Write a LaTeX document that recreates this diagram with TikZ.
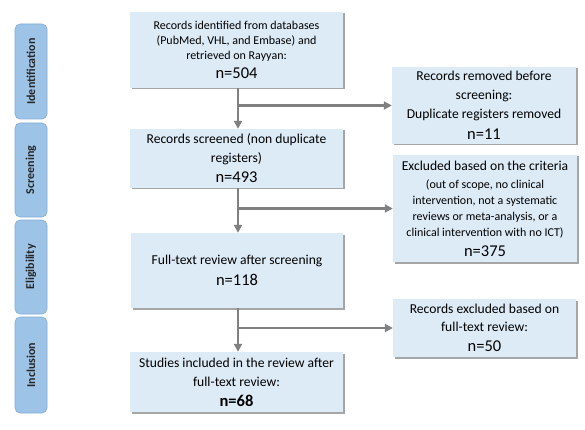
\documentclass[tikz,border=0pt]{standalone}
\usepackage{fontspec}
\setmainfont{Carlito}
\usetikzlibrary{arrows.meta,shadows}
\definecolor{boxfill}{HTML}{DDEBF7}
\definecolor{sidefill}{HTML}{9DC3E6}
\definecolor{sideline}{HTML}{82AEDC}
\definecolor{arrgray}{HTML}{808080}
\newcommand{\nn}[1]{{\fontsize{16.5}{20}\selectfont #1}}
\tikzset{
  mainbox/.style={fill=boxfill, inner sep=0pt, align=center,
    drop shadow={shadow xshift=1.5pt, shadow yshift=-1.5pt, fill=black, opacity=0.35},
    font=\fontsize{13.6}{19}\selectfont},
  sidebox/.style={fill=sidefill, draw=sideline, line width=0.6pt, rounded corners=5pt,
    minimum width=32pt, inner sep=0pt},
  sidetext/.style={rotate=90, font=\bfseries\fontsize{12}{14}\selectfont, text=black!85},
  arr/.style={draw=arrgray, line width=2.6pt, -{Triangle[length=8pt,width=8pt]}},
}
\begin{document}
\begin{tikzpicture}[x=1pt,y=-1pt]
\useasboundingbox (0,0) rectangle (585,430);
\fill[white] (0,0) rectangle (585,430);
% side labels
\node[sidebox, minimum height=95pt] (s1) at (31,71.5) {};
\node[sidetext] (t1) at (s1.center) {Identification};
\node[sidebox, minimum height=94pt] (s2) at (31,170) {};
\node[sidetext] (t2) at (s2.center) {Screening};
\node[sidebox, minimum height=94pt] (s3) at (31,267) {};
\node[sidetext] (t3) at (s3.center) {Eligibility};
\node[sidebox, minimum height=96pt] (s4) at (31,365) {};
\node[sidetext] (t4) at (s4.center) {Inclusion};
% main boxes
\node[mainbox, minimum width=213pt, minimum height=76pt, font=\fontsize{12}{15}\selectfont] (b1) at (236.5,50)
  {Records identified from databases\\(PubMed, VHL, and Embase) and\\retrieved on Rayyan:\\[4pt]\nn{n=504}};
\node[mainbox, minimum width=213pt, minimum height=59pt] (b2) at (236.5,158.5)
  {Records screened (non duplicate\\registers)\\[1pt]\nn{n=493}};
\node[mainbox, minimum width=212pt, minimum height=75pt] (b3) at (237,270.5)
  {Full-text review after screening\\[2pt]\nn{n=118}};
\node[mainbox, minimum width=213pt, minimum height=60pt] (b4) at (236.5,382)
  {Studies included in the review after\\full-text review:\\[1pt]\nn{\bfseries n=68}};
\node[mainbox, minimum width=184pt, minimum height=77pt] (r1) at (484,105.5)
  {Records removed before\\screening:\\Duplicate registers removed\\[2pt]\nn{n=11}};
\node[mainbox, minimum width=184pt, minimum height=107pt, font=\fontsize{12}{16}\selectfont] (r2) at (485,208.5)
  {{\fontsize{13.6}{16}\selectfont Excluded based on the criteria}\\[2pt](out of scope, no clinical\\intervention, not a systematic\\reviews or meta-analysis, or a\\clinical intervention with no ICT)\\[4pt]\nn{n=375}};
\node[mainbox, minimum width=183pt, minimum height=58pt, font=\fontsize{13.6}{18}\selectfont] (r3) at (484.5,328)
  {Records excluded based on\\full-text review:\\[2pt]\nn{n=50}};
% connectors
\coordinate (v) at (238,0);
\draw[arr] (b1.south -| v) -- (b2.north -| v);
\draw[arr] (r1.west -| v) -- (r1.west);
\draw[arr] (b2.south -| v) -- (b3.north -| v);
\draw[arr] (r2.west -| v) -- (r2.west);
\draw[arr] (b3.south -| v) -- (b4.north -| v);
\draw[arr] (r3.west -| v) -- (r3.west);
\end{tikzpicture}
\end{document}
